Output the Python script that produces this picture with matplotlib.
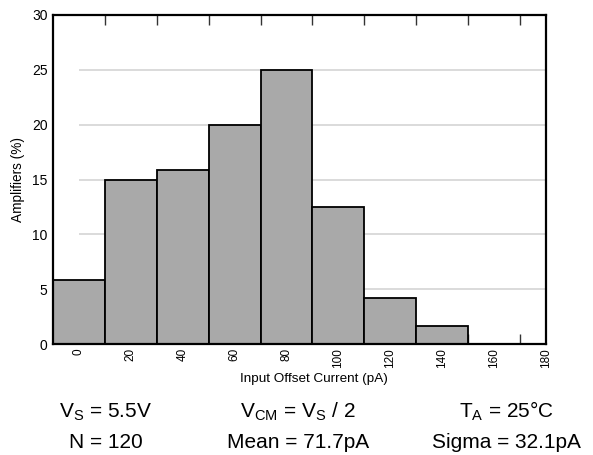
import matplotlib
matplotlib.use("Agg")
import matplotlib.pyplot as plt
from matplotlib.ticker import FixedLocator

plt.rcParams['font.family'] = ['Liberation Sans', 'DejaVu Sans']
plt.rcParams['mathtext.fontset'] = 'custom'
plt.rcParams['mathtext.rm'] = 'Liberation Sans'

bin_centers = [0, 20, 40, 60, 80, 100, 120, 140, 160, 180]
percent = [5.83, 15.0, 15.83, 20.0, 25.0, 12.5, 4.17, 1.67, 0.0, 0.0]
bin_edges = [10, 30, 50, 70, 90, 110, 130, 150, 170]
y_ticks = [0, 5, 10, 15, 20, 25, 30]
grid_levels = [5, 10, 15, 20, 25]

fig = plt.figure(figsize=(5.93, 4.55), dpi=100)
ax = fig.add_axes([53/593, 1-344/455, (546-53)/593, (344-15)/455])

ax.hlines(grid_levels, 0, 180, colors='#d4d4d4', linewidth=1.2, zorder=1)
ax.bar(bin_centers, percent, width=20, color='#a9a9a9', edgecolor='black',
       linewidth=1.3, zorder=2)

ax.set_xlim(-10, 180)
ax.set_ylim(0, 30)
ax.set_xticks(bin_centers)
ax.set_xticklabels([str(v) for v in bin_centers], rotation=90, fontsize=8.5)
ax.xaxis.set_minor_locator(FixedLocator(bin_edges))
ax.tick_params(axis='x', which='major', length=0, pad=3)
ax.tick_params(axis='x', which='minor', direction='in', length=7.5, width=1,
               color='#333333', top=True, bottom=True)
ax.set_yticks(y_ticks)
ax.tick_params(axis='y', which='major', length=0, pad=4, labelsize=10)
for s in ax.spines.values():
    s.set_linewidth(1.6)
    s.set_zorder(5)

ax.set_ylabel('Amplifiers (%)', fontsize=9.8)
ax.yaxis.set_label_coords((25 - 53) / 493, 0.5)
ax.set_xlabel('Input Offset Current (pA)', fontsize=9.7)
ax.xaxis.set_label_coords((314 - 53) / 493, (344 - 373) / 329)

row1 = [r'V$_\mathregular{S}$ = 5.5V', r'V$_\mathregular{CM}$ = V$_\mathregular{S}$ / 2',
        r'T$_\mathregular{A}$ = 25°C']
row2 = ['N = 120', 'Mean = 71.7pA', 'Sigma = 32.1pA']
xs = [106/593, 298/593, 506/593]
for x, t in zip(xs, row1):
    fig.text(x, 1-417/455, t, ha='center', va='baseline', fontsize=15)
for x, t in zip(xs, row2):
    fig.text(x, 1-448/455, t, ha='center', va='baseline', fontsize=15)

fig.savefig('out.png', dpi=100)
